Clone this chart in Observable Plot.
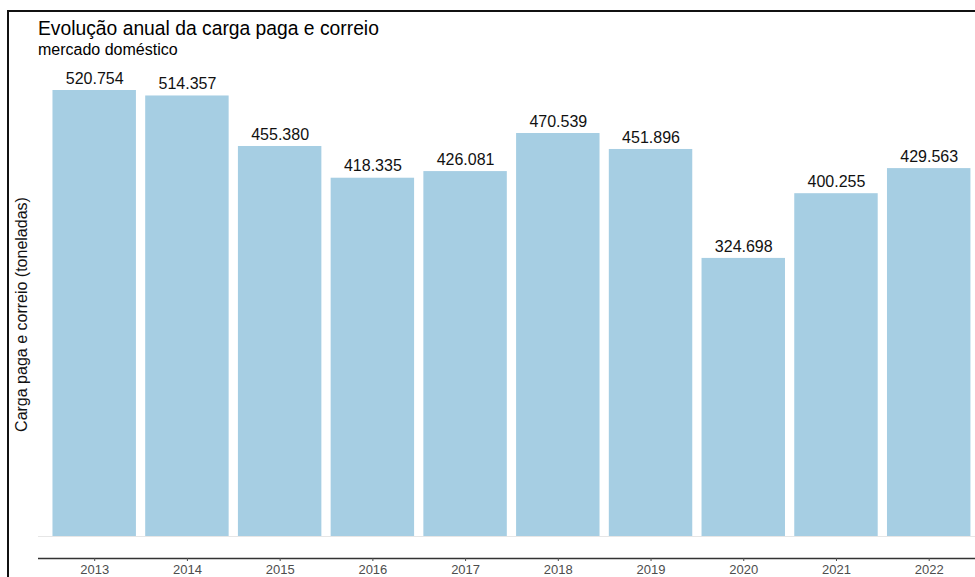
<!DOCTYPE html>
<html>
<head>
<meta charset="utf-8">
<script src="https://cdn.jsdelivr.net/npm/d3@7"></script>
<script src="https://cdn.jsdelivr.net/npm/@observablehq/plot@0.6"></script>
<style>
  html, body { margin: 0; padding: 0; background: #fff; }
  #wrap { position: relative; width: 975px; height: 577px; overflow: hidden; font-family: "Liberation Sans", Arial, sans-serif; }
  #border { position: absolute; left: 7px; top: 10px; right: -4px; bottom: -4px; border-top: 2px solid #111; border-left: 2px solid #111; pointer-events: none; }
  #title { padding: 18px 0 0 38px; font-size: 19.3px; line-height: 22px; color: #000; }
  #subtitle { padding: 0 0 0 38px; font-size: 16px; line-height: 20px; color: #000; }
  #chart svg { display: block; }
</style>
</head>
<body>
<div id="wrap">
  <div id="title"></div>
  <div id="subtitle"></div>
  <div id="chart"></div>
  <div id="border"></div>
</div>
<script>
const titleText = "Evolução anual da carga paga e correio";
const subtitleText = "mercado doméstico";
const yLabelText = "Carga paga e correio (toneladas)";
const years = ["2013","2014","2015","2016","2017","2018","2019","2020","2021","2022"];
const values = [520754, 514357, 455380, 418335, 426081, 470539, 451896, 324698, 400255, 429563];

document.getElementById("title").textContent = titleText;
document.getElementById("subtitle").textContent = subtitleText;

const data = years.map((y, i) => ({year: y, value: values[i]}));
const ptBR = d3.formatLocale({decimal: ",", thousands: ".", grouping: [3], currency: ["", ""]});
const fmt = ptBR.format(",d");

const yMax = d3.max(values);
const yMin = -yMax * 22 / 446;

const chart = Plot.plot({
  width: 975,
  height: 517,
  marginLeft: 38,
  marginRight: 0,
  marginTop: 10,
  marginBottom: 19,
  style: {fontFamily: "'Liberation Sans', Arial, sans-serif", fontSize: "13px", background: "#fff"},
  x: {domain: years, range: [43.2, 979.7], padding: 0.1, round: false, label: null},
  y: {domain: [yMin, yMax], range: [498, 30], axis: null},
  marks: [
    Plot.ruleY([0], {stroke: "#e6e6e6", strokeWidth: 1.2}),
    Plot.barY(data, {x: "year", y: "value", fill: "#a6cee3"}),
    Plot.text(data, {x: "year", y: "value", text: d => fmt(d.value), dy: -12, fontSize: 16, fill: "#111"}),
    Plot.ruleY([yMin], {stroke: "#333", strokeWidth: 1.3}),
    Plot.axisX({tickSize: 3, tickPadding: 3, fontSize: 13, color: "#4d4d4d", label: null}),
    Plot.text([yLabelText], {frameAnchor: "left", textAnchor: "middle", rotate: -90, dx: -17, fontSize: 16, fill: "#111"})
  ]
});
document.getElementById("chart").appendChild(chart);
</script>
</body>
</html>
